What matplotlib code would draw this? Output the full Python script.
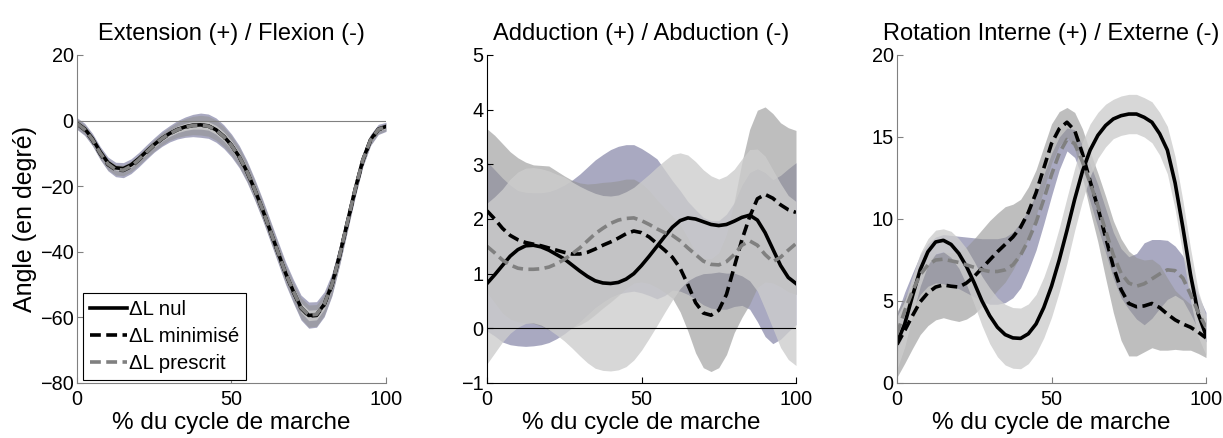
import matplotlib
matplotlib.use("Agg")
import matplotlib.pyplot as plt
import numpy as np

plt.rcParams["font.family"] = ["Liberation Sans", "DejaVu Sans"]
plt.rcParams["font.size"] = 14

# % of gait cycle, mean curves and std every 2.5 %
pct = np.linspace(0, 100, 41)

labels = ["\u0394L nul", "\u0394L minimisé", "\u0394L prescrit"]
titles = [
    "Extension (+) / Flexion (-)",
    "Adduction (+) / Abduction (-)",
    "Rotation Interne (+) / Externe (-)",
]

# --- Extension / Flexion ---
flex_nul = [-0.8, -2.5, -5.5, -9.5, -12.8, -14.4, -14.6, -13.5, -11.6, -9.4, -7.3,
            -5.4, -3.9, -2.7, -1.9, -1.4, -1.3, -1.6, -2.8, -4.8, -7.5, -11.0,
            -15.5, -21.0, -27.0, -33.5, -40.0, -46.5, -52.0, -57.0, -59.4, -59.2,
            -56.0, -50.0, -41.0, -31.0, -21.0, -12.0, -5.8, -2.6, -1.8]
flex_min = [-1.0, -2.8, -6.0, -10.1, -13.4, -15.0, -15.2, -14.0, -12.0, -9.7, -7.5,
            -5.6, -4.0, -2.8, -2.0, -1.5, -1.4, -1.7, -2.9, -4.9, -7.6, -11.1,
            -15.6, -21.1, -27.1, -33.6, -40.1, -46.6, -52.2, -57.2, -59.6, -59.4,
            -56.2, -50.2, -41.2, -31.2, -21.2, -12.2, -6.0, -2.8, -2.0]
flex_pre = [-0.9, -2.7, -5.8, -9.9, -13.2, -14.9, -15.1, -13.9, -11.9, -9.6, -7.4,
            -5.5, -4.0, -2.8, -2.0, -1.5, -1.4, -1.7, -2.9, -4.9, -7.6, -11.0,
            -15.5, -21.0, -27.0, -33.5, -40.0, -46.5, -52.0, -57.0, -59.3, -59.1,
            -56.0, -50.0, -41.0, -31.0, -21.0, -12.0, -5.9, -2.7, -1.9]
flex_nul_sd = [0.7, 0.7, 0.7, 0.7, 0.7, 0.7, 0.7, 0.7, 0.7, 0.75, 0.8, 0.85, 0.9, 1.0,
               1.1, 1.2, 1.3, 1.3, 1.35, 1.35, 1.35, 1.3, 1.3, 1.25, 1.2, 1.2, 1.2, 1.3,
               1.35, 1.45, 1.6, 1.55, 1.5, 1.35, 1.2, 1.1, 1.0, 0.85, 0.7, 0.65, 0.6]
flex_min_sd = [1.5, 1.5, 1.5, 1.55, 1.6, 1.6, 1.6, 1.6, 1.6, 1.7, 1.8, 1.9, 2.0, 2.3,
               2.6, 2.8, 3.0, 3.05, 3.1, 3.05, 3.0, 2.95, 2.9, 2.85, 2.8, 2.8, 2.8, 2.9,
               3.0, 3.2, 3.4, 3.3, 3.2, 2.9, 2.6, 2.3, 2.0, 1.7, 1.4, 1.25, 1.1]
flex_pre_sd = [1.8, 1.85, 1.9, 2.0, 2.1, 2.2, 2.3, 2.25, 2.2, 2.2, 2.2, 2.35, 2.5, 2.8,
               3.1, 3.4, 3.7, 3.7, 3.7, 3.6, 3.5, 3.4, 3.3, 3.25, 3.2, 3.25, 3.3, 3.45,
               3.6, 3.8, 4.0, 3.9, 3.8, 3.45, 3.1, 2.75, 2.4, 2.05, 1.7, 1.55, 1.4]

# --- Adduction / Abduction ---
add_nul = [0.82, 0.98, 1.15, 1.32, 1.44, 1.51, 1.52, 1.49, 1.43, 1.35, 1.27, 1.16,
           1.05, 0.95, 0.87, 0.83, 0.82, 0.84, 0.90, 1.00, 1.15, 1.32, 1.50, 1.68,
           1.85, 1.97, 2.02, 2.00, 1.95, 1.90, 1.88, 1.90, 1.96, 2.03, 2.07, 1.98,
           1.75, 1.45, 1.15, 0.93, 0.82]
add_min = [2.15, 2.00, 1.83, 1.70, 1.62, 1.57, 1.54, 1.51, 1.47, 1.43, 1.39, 1.36,
           1.36, 1.39, 1.45, 1.52, 1.58, 1.65, 1.73, 1.78, 1.75, 1.67, 1.55, 1.43,
           1.30, 1.10, 0.80, 0.47, 0.28, 0.24, 0.33, 0.62, 1.12, 1.62, 2.04, 2.37,
           2.45, 2.38, 2.26, 2.17, 2.12]
add_pre = [1.50, 1.38, 1.25, 1.16, 1.10, 1.08, 1.08, 1.09, 1.12, 1.18, 1.26, 1.36,
           1.47, 1.60, 1.73, 1.83, 1.92, 1.98, 2.01, 2.02, 1.97, 1.90, 1.82, 1.75,
           1.70, 1.60, 1.47, 1.35, 1.23, 1.17, 1.16, 1.22, 1.35, 1.52, 1.60, 1.52,
           1.35, 1.22, 1.30, 1.43, 1.55]
add_nul_sd = [1.47, 1.43, 1.40, 1.41, 1.42, 1.42, 1.42, 1.43, 1.45, 1.47, 1.50, 1.52,
              1.55, 1.58, 1.60, 1.60, 1.60, 1.60, 1.60, 1.58, 1.55, 1.50, 1.45, 1.39,
              1.33, 1.24, 1.15, 1.05, 0.95, 0.89, 0.85, 0.89, 0.95, 1.07, 1.20, 1.30,
              1.40, 1.45, 1.50, 1.50, 1.50]
add_min_sd = [1.50, 1.53, 1.55, 1.53, 1.50, 1.47, 1.45, 1.47, 1.50, 1.45, 1.40, 1.35,
              1.30, 1.25, 1.20, 1.15, 1.10, 1.05, 1.00, 0.95, 0.90, 0.85, 0.80, 0.77,
              0.75, 0.80, 0.85, 0.92, 1.00, 1.03, 1.05, 1.10, 1.20, 1.42, 1.60, 1.62,
              1.60, 1.55, 1.50, 1.50, 1.50]
add_pre_sd = [1.55, 1.52, 1.50, 1.46, 1.42, 1.41, 1.40, 1.39, 1.38, 1.37, 1.36, 1.35,
              1.35, 1.35, 1.35, 1.35, 1.35, 1.35, 1.35, 1.34, 1.32, 1.30, 1.28, 1.15,
              1.00, 0.92, 0.85, 0.82, 0.80, 0.80, 0.81, 0.87, 0.95, 1.10, 1.25, 1.40,
              1.50, 1.50, 1.50, 1.49, 1.48]

# --- Rotation interne / externe ---
rot_nul = [2.45, 3.6, 5.3, 6.9, 8.0, 8.6, 8.7, 8.45, 7.9, 7.1, 6.1, 5.0, 4.1, 3.4,
           2.95, 2.75, 2.72, 3.0, 3.6, 4.6, 5.9, 7.5, 9.3, 11.2, 12.9, 14.2, 15.1,
           15.7, 16.1, 16.3, 16.4, 16.4, 16.2, 15.9, 15.2, 14.2, 12.2, 9.5, 6.6, 4.2, 2.9]
rot_min = [2.35, 3.2, 4.1, 4.95, 5.5, 5.85, 5.98, 5.9, 5.85, 6.1, 6.5, 7.0, 7.5, 8.0,
           8.45, 8.9, 9.5, 10.4, 11.6, 13.1, 14.6, 15.5, 15.9, 15.4, 14.0, 12.3, 10.7,
           8.9, 7.1, 5.7, 4.85, 4.65, 4.7, 4.85, 4.6, 4.2, 3.85, 3.6, 3.4, 3.1, 2.75]
rot_pre = [3.0, 4.4, 5.6, 6.6, 7.2, 7.5, 7.55, 7.45, 7.35, 7.2, 7.05, 6.9, 6.8, 6.8,
           6.9, 7.2, 7.8, 8.7, 9.8, 11.2, 12.7, 14.0, 14.85, 14.6, 13.5, 12.2, 10.8,
           9.3, 7.8, 6.7, 6.1, 5.9, 6.05, 6.35, 6.65, 6.9, 6.85, 6.4, 5.4, 4.3, 3.4]
rot_nul_sd = [1.6, 1.4, 1.2, 1.0, 0.8, 0.72, 0.7, 0.8, 0.9, 1.1, 1.3, 1.5, 1.7, 1.8,
              1.85, 1.85, 1.85, 1.82, 1.8, 1.85, 1.9, 1.95, 2.0, 1.9, 1.8, 1.6, 1.4,
              1.3, 1.2, 1.2, 1.2, 1.2, 1.2, 1.25, 1.3, 1.45, 1.6, 1.65, 1.6, 1.4, 1.2]
rot_min_sd = [2.0, 2.0, 2.0, 2.0, 2.0, 2.0, 2.0, 2.05, 2.1, 2.2, 2.3, 2.35, 2.4, 2.35,
              2.3, 2.0, 1.7, 1.55, 1.4, 1.3, 1.2, 1.05, 0.9, 1.1, 1.5, 1.8, 2.1, 2.5,
              2.8, 3.1, 3.2, 3.0, 2.8, 2.7, 2.6, 2.2, 1.8, 1.6, 1.4, 1.3, 1.2]
rot_pre_sd = [1.2, 1.15, 1.1, 1.2, 1.3, 1.4, 1.5, 1.55, 1.6, 1.7, 1.8, 1.9, 2.0, 2.0,
              2.0, 2.0, 2.0, 1.85, 1.7, 1.5, 1.3, 1.0, 0.7, 0.85, 1.0, 1.15, 1.3, 1.35,
              1.4, 1.5, 1.6, 2.0, 2.5, 2.4, 2.1, 1.8, 1.5, 1.35, 1.2, 1.05, 0.9]

panels = [
    (flex_nul, flex_min, flex_pre, flex_nul_sd, flex_min_sd, flex_pre_sd,
     (-80, 20), [-80, -60, -40, -20, 0, 20], "#808080"),
    (add_nul, add_min, add_pre, add_nul_sd, add_min_sd, add_pre_sd,
     (-1, 5), [-1, 0, 1, 2, 3, 4, 5], "black"),
    (rot_nul, rot_min, rot_pre, rot_nul_sd, rot_min_sd, rot_pre_sd,
     (0, 20), [0, 5, 10, 15, 20], "#808080"),
]

# band colours: prescrit (lavender) below, minimise (grey), nul (light grey) on top
band_styles = [("#cdcdcd", 0.8), ("#949494", 0.6), ("#8c8cad", 0.75)]
line_styles = [
    dict(color="black", linestyle="-"),
    dict(color="black", linestyle=(0, (3, 1.5))),
    dict(color="#808080", linestyle=(0, (3, 1.5))),
]

fig = plt.figure(figsize=(12.23, 4.38), dpi=100)
lefts = [77 / 1223, 487 / 1223, 897 / 1223]
width = 309 / 1223
bottom = 55 / 438
height = 328 / 438

for i, (nul, mini, pre, nul_sd, min_sd, pre_sd, ylim, yticks, spine_col) in enumerate(panels):
    ax = fig.add_axes([lefts[i], bottom, width, height])
    means = [np.array(nul), np.array(mini), np.array(pre)]
    sds = [np.array(nul_sd), np.array(min_sd), np.array(pre_sd)]

    for k in (2, 1, 0):
        col, alpha = band_styles[k]
        ax.fill_between(pct, means[k] - sds[k], means[k] + sds[k], color=col,
                        alpha=alpha, linewidth=0)

    if i < 2:
        ax.plot([0, 100], [0, 0], color=spine_col if i == 0 else "black", lw=0.8)

    handles = []
    for k in range(3):
        (h,) = ax.plot(pct, means[k], lw=2.6, label=labels[k], **line_styles[k])
        handles.append(h)

    ax.set_xlim(0, 100)
    ax.set_ylim(*ylim)
    ax.set_xticks([0, 50, 100])
    ax.set_yticks(yticks)
    ax.spines["top"].set_visible(False)
    ax.spines["right"].set_visible(False)
    for side in ("left", "bottom"):
        ax.spines[side].set_color(spine_col)
        ax.spines[side].set_linewidth(0.8)
    ax.tick_params(direction="in", length=4, width=0.8, color=spine_col,
                   labelsize=14.3)
    ax.tick_params(axis="x", pad=5)
    ax.tick_params(axis="y", pad=2.5)
    ax.set_title(titles[i], fontsize=17, pad=11)
    ax.set_xlabel("% du cycle de marche", fontsize=17.5, labelpad=2.5)

    if i == 0:
        ax.set_ylabel("Angle (en degré)", fontsize=18, labelpad=2)
        leg = ax.legend(handles=handles, loc="lower left",
                        bbox_to_anchor=(6 / 309, 3 / 328), borderaxespad=0,
                        fontsize=14.7, handlelength=1.8, handletextpad=0.1,
                        labelspacing=0.38, borderpad=0.35, fancybox=False,
                        framealpha=1, edgecolor="black")
        leg.get_frame().set_linewidth(0.8)

fig.savefig("out.png", dpi=100)
